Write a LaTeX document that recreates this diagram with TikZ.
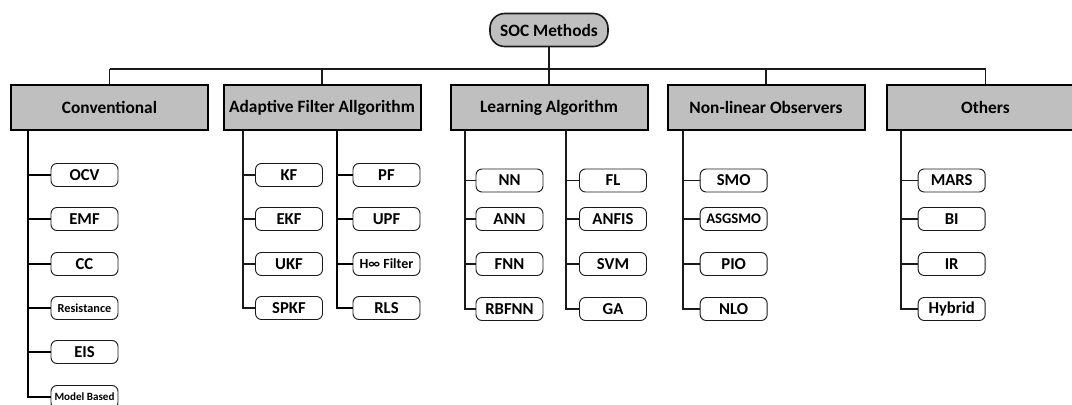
\documentclass[tikz,border=0pt]{standalone}
\usepackage{fontspec}
\setmainfont{Carlito}
\definecolor{boxgray}{HTML}{BFBFBF}
\definecolor{linedark}{HTML}{1A1A1A}
\begin{document}
\begin{tikzpicture}[x=0.75pt,y=-0.75pt,
  rootbox/.style={draw=linedark,line width=1.2pt,fill=boxgray,rounded corners=11pt,
    minimum width=88.5pt,minimum height=24.75pt,inner sep=0pt,
    font=\fontsize{13}{15}\selectfont\bfseries},
  catbox/.style={draw=black,line width=1.5pt,fill=boxgray,
    minimum width=147.75pt,minimum height=33.75pt,inner sep=0pt,
    font=\fontsize{13}{15}\selectfont\bfseries},
  leaf/.style={draw=linedark,line width=0.7pt,fill=white,rounded corners=4.5pt,
    minimum width=50.25pt,minimum height=17.25pt,inner sep=0pt,
    font=\fontsize{12.5}{14}\selectfont\bfseries},
  conn/.style={draw=linedark,line width=0.8pt},
  thickconn/.style={draw=black,line width=1.4pt}]
\useasboundingbox (0,0) rectangle (1072,404);
\clip (0,0) rectangle (1072,404);

% root and categories
\node[rootbox] (root) at (549,30) {SOC Methods};
\node[catbox] (conv) at (109.5,107.5) {Conventional};
\node[catbox] (adapt) at (322,107.5) {Adaptive Filter Allgorithm};
\node[catbox] (learn) at (549,107.5) {Learning Algorithm};
\node[catbox] (nlo) at (766,107.5) {Non-linear Observers};
\node[catbox] (oth) at (985.5,107.5) {Others};

% bus
\coordinate (busL) at (109.5,69);
\coordinate (busR) at (985.5,69);
\draw[conn] (busL) -- (busR);
\draw[conn] (root.south) -- (root.south |- busL);
\foreach \n in {conv,adapt,learn,nlo,oth}{
  \draw[conn] (\n.north) -- (\n.north |- busL);
}

% Conventional leaves
\node[leaf] (ocv) at (84.5,175) {OCV};
\node[leaf] (emf) at (84.5,219) {EMF};
\node[leaf] (cc) at (84.5,264) {CC};
\node[leaf,font=\fontsize{9.2}{11}\selectfont\bfseries] (res) at (84.5,308) {Resistance};
\node[leaf] (eis) at (84.5,352) {EIS};
\node[leaf,font=\fontsize{8.3}{10}\selectfont\bfseries] (mb) at (84.5,397) {Model Based};
\coordinate (cs) at (28,130);
\foreach \n in {ocv,emf,cc,res,eis,mb}{
  \draw[thickconn] (cs) |- (\n.west);
}

% Adaptive leaves
\node[leaf] (kf) at (289,175) {KF};
\node[leaf] (ekf) at (289,219) {EKF};
\node[leaf] (ukf) at (289,264) {UKF};
\node[leaf] (spkf) at (289,308) {SPKF};
\node[leaf] (pf) at (386.5,175) {PF};
\node[leaf] (upf) at (386.5,219) {UPF};
\node[leaf,font=\fontsize{10.5}{12}\selectfont\bfseries] (hinf) at (386.5,264) {H∞ Filter};
\node[leaf] (rls) at (386.5,308) {RLS};
\coordinate (as1) at (243,130);
\coordinate (as2) at (337,130);
\foreach \n in {kf,ekf,ukf,spkf}{
  \draw[conn] (as1) |- (\n.west);
}
\foreach \n in {pf,upf,hinf,rls}{
  \draw[thickconn] (as2) |- (\n.west);
}

% Learning leaves
\node[leaf] (nn) at (509.5,180.5) {NN};
\node[leaf] (ann) at (509.5,219) {ANN};
\node[leaf] (fnn) at (509.5,264) {FNN};
\node[leaf] (rbf) at (509.5,309) {RBFNN};
\node[leaf] (fl) at (613,180.5) {FL};
\node[leaf] (anfis) at (613,219) {ANFIS};
\node[leaf] (svm) at (613,264) {SVM};
\node[leaf] (ga) at (613,309) {GA};
\coordinate (ls1) at (465,130);
\coordinate (ls2) at (566,130);
\foreach \n in {nn,ann,fnn,rbf}{
  \draw[conn] (ls1) |- (\n.west);
}
\foreach \n in {fl,anfis,svm,ga}{
  \draw[conn] (ls2) |- (\n.west);
}

% Non-linear observers
\node[leaf] (smo) at (733.7,180.5) {SMO};
\node[leaf,font=\fontsize{11}{13}\selectfont\bfseries] (asg) at (733.7,219) {ASGSMO};
\node[leaf] (pio) at (733.7,264) {PIO};
\node[leaf] (nlob) at (733.7,309) {NLO};
\coordinate (ns) at (683,130);
\foreach \n in {smo,asg,pio,nlob}{
  \draw[conn] (ns) |- (\n.west);
}

% Others
\node[leaf] (mars) at (951.7,180.5) {MARS};
\node[leaf] (bi) at (951.7,219) {BI};
\node[leaf] (ir) at (951.7,264) {IR};
\node[leaf] (hyb) at (951.7,309) {Hybrid};
\coordinate (os) at (901,130);
\foreach \n in {mars,bi,ir,hyb}{
  \draw[conn] (os) |- (\n.west);
}
\end{tikzpicture}
\end{document}
